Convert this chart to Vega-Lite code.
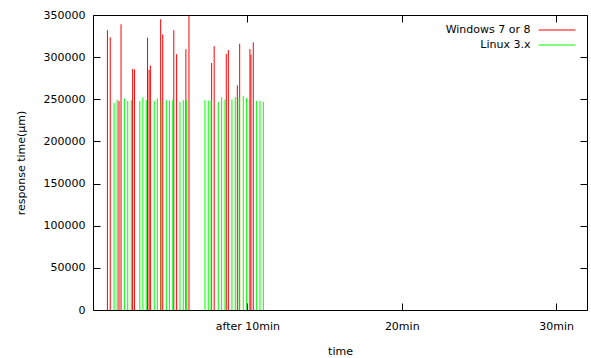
{
  "$schema": "https://vega.github.io/schema/vega-lite/v6.json",
  "width": 494,
  "height": 295,
  "autosize": "none",
  "padding": {"left": 93, "top": 15, "right": 4, "bottom": 48},
  "background": "white",
  "config": {
    "view": {"stroke": "#000000", "strokeWidth": 1},
    "font": "DejaVu Sans",
    "axis": {
      "grid": false,
      "domain": false,
      "tickColor": "#000000",
      "tickSize": -7,
      "labelFont": "DejaVu Sans",
      "labelFontSize": 11,
      "labelColor": "#000000",
      "titleFont": "DejaVu Sans",
      "titleFontSize": 11,
      "titleFontWeight": "normal",
      "titleColor": "#000000"
    }
  },
  "data": {
    "values": [
      {"s": "Windows 7 or 8", "t": 56, "v": 332000},
      {"s": "Windows 7 or 8", "t": 67, "v": 323500},
      {"s": "Windows 7 or 8", "t": 101, "v": 248000},
      {"s": "Windows 7 or 8", "t": 109, "v": 339000},
      {"s": "Windows 7 or 8", "t": 154, "v": 286000},
      {"s": "Windows 7 or 8", "t": 161, "v": 285500},
      {"s": "Windows 7 or 8", "t": 212, "v": 323000},
      {"s": "Windows 7 or 8", "t": 218, "v": 285000},
      {"s": "Windows 7 or 8", "t": 223, "v": 290000},
      {"s": "Windows 7 or 8", "t": 263, "v": 345000},
      {"s": "Windows 7 or 8", "t": 271, "v": 327000},
      {"s": "Windows 7 or 8", "t": 314, "v": 332000},
      {"s": "Windows 7 or 8", "t": 325, "v": 303500},
      {"s": "Windows 7 or 8", "t": 361, "v": 309500},
      {"s": "Windows 7 or 8", "t": 373, "v": 349500},
      {"s": "Windows 7 or 8", "t": 461, "v": 293000},
      {"s": "Windows 7 or 8", "t": 471, "v": 313000},
      {"s": "Windows 7 or 8", "t": 518, "v": 304000},
      {"s": "Windows 7 or 8", "t": 526, "v": 308500},
      {"s": "Windows 7 or 8", "t": 561, "v": 266500},
      {"s": "Windows 7 or 8", "t": 570, "v": 316000},
      {"s": "Windows 7 or 8", "t": 610, "v": 309500},
      {"s": "Windows 7 or 8", "t": 614, "v": 303000},
      {"s": "Windows 7 or 8", "t": 623, "v": 317500},
      {"s": "Linux 3.x", "t": 82, "v": 245500},
      {"s": "Linux 3.x", "t": 94, "v": 249500},
      {"s": "Linux 3.x", "t": 122, "v": 251000},
      {"s": "Linux 3.x", "t": 135, "v": 248000},
      {"s": "Linux 3.x", "t": 149, "v": 249000},
      {"s": "Linux 3.x", "t": 182, "v": 248000},
      {"s": "Linux 3.x", "t": 194, "v": 252500},
      {"s": "Linux 3.x", "t": 207, "v": 249000},
      {"s": "Linux 3.x", "t": 238, "v": 248000},
      {"s": "Linux 3.x", "t": 250, "v": 251000},
      {"s": "Linux 3.x", "t": 265, "v": 248000},
      {"s": "Linux 3.x", "t": 285, "v": 249000},
      {"s": "Linux 3.x", "t": 297, "v": 248500},
      {"s": "Linux 3.x", "t": 310, "v": 249000},
      {"s": "Linux 3.x", "t": 338, "v": 247000},
      {"s": "Linux 3.x", "t": 351, "v": 249000},
      {"s": "Linux 3.x", "t": 364, "v": 249000},
      {"s": "Linux 3.x", "t": 435, "v": 249000},
      {"s": "Linux 3.x", "t": 448, "v": 248500},
      {"s": "Linux 3.x", "t": 459, "v": 249000},
      {"s": "Linux 3.x", "t": 487, "v": 247000},
      {"s": "Linux 3.x", "t": 500, "v": 252500},
      {"s": "Linux 3.x", "t": 513, "v": 249500},
      {"s": "Linux 3.x", "t": 540, "v": 250000},
      {"s": "Linux 3.x", "t": 553, "v": 252500},
      {"s": "Linux 3.x", "t": 568, "v": 252500},
      {"s": "Linux 3.x", "t": 584, "v": 254000},
      {"s": "Linux 3.x", "t": 597, "v": 251500},
      {"s": "Linux 3.x", "t": 608, "v": 249000},
      {"s": "Linux 3.x", "t": 636, "v": 248000},
      {"s": "Linux 3.x", "t": 649, "v": 248000},
      {"s": "Linux 3.x", "t": 662, "v": 247000}
    ]
  },
  "layer": [
    {
      "mark": {"type": "rule", "strokeWidth": 1},
      "encoding": {
        "x": {
          "field": "t",
          "type": "quantitative",
          "scale": {"domain": [0, 1920], "nice": false, "zero": false},
          "axis": {
            "values": [600, 1200, 1800],
            "labelExpr": "datum.value == 600 ? 'after 10min' : (datum.value / 60) + 'min'",
            "title": "time",
            "labelPadding": 17,
            "titlePadding": 14
          }
        },
        "y": {
          "field": "v",
          "type": "quantitative",
          "scale": {"domain": [0, 350000], "nice": false},
          "axis": {
            "values": [0, 50000, 100000, 150000, 200000, 250000, 300000, 350000],
            "format": "d",
            "title": "response time(μm)",
            "labelPadding": 15,
            "titlePadding": 17
          }
        },
        "y2": {"datum": 0},
        "color": {
          "field": "s",
          "type": "nominal",
          "scale": {"domain": ["Windows 7 or 8", "Linux 3.x"], "range": ["#ff0000", "#00ff00"]},
          "legend": {
            "title": null,
            "orient": "none",
            "legendX": 445,
            "legendY": 5.5,
            "padding": 0,
            "symbolType": "M-2.05,0H2.05",
            "symbolSize": 324,
            "symbolStrokeWidth": 1,
            "symbolOpacity": 1,
            "symbolOffset": 9.5,
            "rowPadding": 0,
            "labelAlign": "right",
            "labelOffset": -36,
            "labelFont": "DejaVu Sans",
            "labelFontSize": 11,
            "labelColor": "#000000",
            "labelLimit": 300
          }
        }
      }
    },
    {
      "mark": {"type": "rule", "opacity": 0},
      "encoding": {
        "x": {
          "field": "t",
          "type": "quantitative",
          "axis": {"orient": "top", "values": [600, 1200, 1800], "labels": false, "title": null}
        },
        "y": {
          "field": "v",
          "type": "quantitative",
          "axis": {
            "orient": "right",
            "values": [0, 50000, 100000, 150000, 200000, 250000, 300000, 350000],
            "labels": false,
            "title": null
          }
        },
        "y2": {"datum": 0}
      }
    }
  ],
  "resolve": {"axis": {"x": "independent", "y": "independent"}}
}
